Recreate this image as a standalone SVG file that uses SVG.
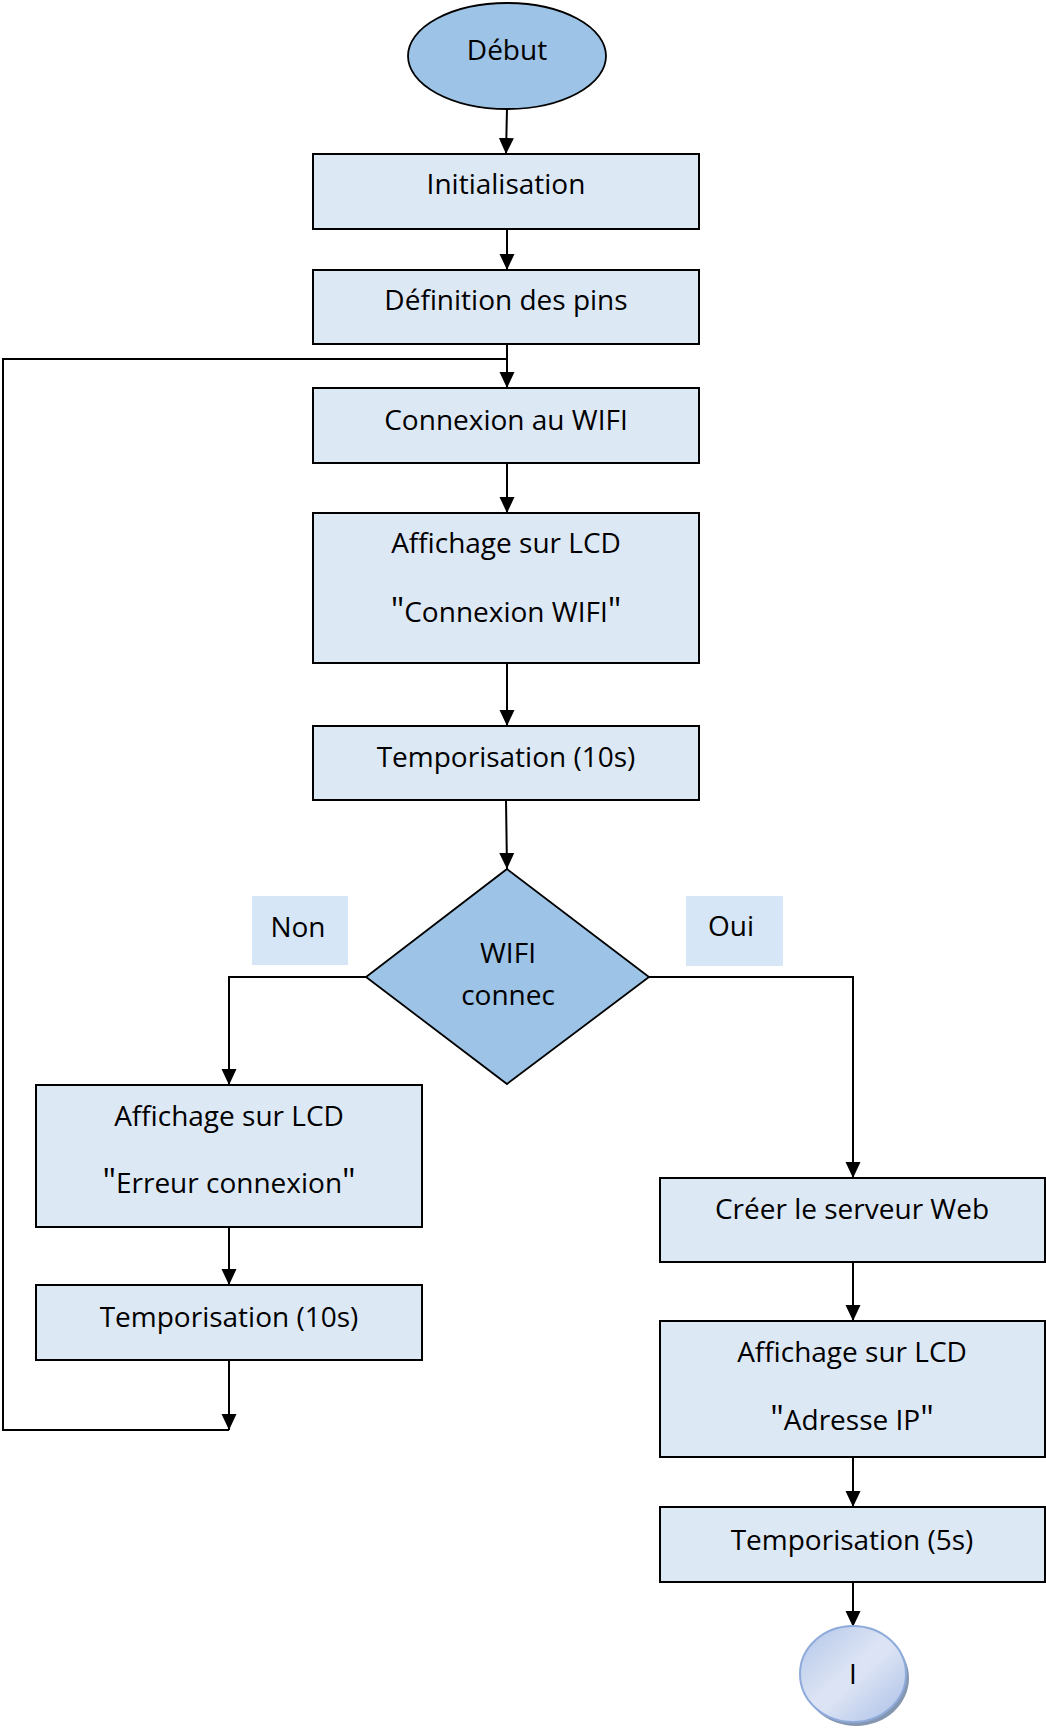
<svg xmlns="http://www.w3.org/2000/svg" width="1046" height="1731" viewBox="0 0 1046 1731">
<style>
.box{fill:#dde8f5;stroke:#000;stroke-width:2}
.term{fill:#9dc3e6;stroke:#000;stroke-width:1.8}
.lbl{fill:#d6e6f7}
.t{font-family:"Open Sans","Noto Sans","Liberation Sans",sans-serif;font-size:28px;fill:#000;text-anchor:middle}
.q{font-size:34px}
.ln{fill:none;stroke:#000;stroke-width:2}
</style>
<defs>
<marker id="arr" markerUnits="userSpaceOnUse" markerWidth="16" markerHeight="16" refX="16" refY="8" orient="auto">
<path d="M0,0.5 L16,8 L0,15.5 z" fill="#000"/>
</marker>
<linearGradient id="g" x1="0" y1="0" x2="1" y2="1">
<stop offset="0" stop-color="#b1c5e8"/>
<stop offset="0.45" stop-color="#dbe3f4"/>
<stop offset="0.55" stop-color="#dbe3f4"/>
<stop offset="1" stop-color="#a9bee6"/>
</linearGradient>
</defs>
<rect width="1046" height="1731" fill="#fff"/>
<g id="connectors">
<line class="ln" x1="507" y1="108" x2="506" y2="154" marker-end="url(#arr)"/>
<line class="ln" x1="507" y1="229" x2="507" y2="270" marker-end="url(#arr)"/>
<line class="ln" x1="507" y1="344" x2="507" y2="388" marker-end="url(#arr)"/>
<line class="ln" x1="507" y1="463" x2="507" y2="513" marker-end="url(#arr)"/>
<line class="ln" x1="507" y1="663" x2="507" y2="726" marker-end="url(#arr)"/>
<line class="ln" x1="506" y1="800" x2="507" y2="869" marker-end="url(#arr)"/>
<polyline class="ln" points="366,977 229,977 229,1085" marker-end="url(#arr)"/>
<line class="ln" x1="229" y1="1227" x2="229" y2="1285" marker-end="url(#arr)"/>
<line class="ln" x1="229" y1="1360" x2="229" y2="1430" marker-end="url(#arr)"/>
<polyline class="ln" points="229,1430 3,1430 3,359 507,359"/>
<polyline class="ln" points="649,977 853,977 853,1178" marker-end="url(#arr)"/>
<line class="ln" x1="853" y1="1262" x2="853" y2="1321" marker-end="url(#arr)"/>
<line class="ln" x1="853" y1="1457" x2="853" y2="1507" marker-end="url(#arr)"/>
<line class="ln" x1="853" y1="1582" x2="853" y2="1627" marker-end="url(#arr)"/>
</g>
<g id="debut">
<ellipse class="term" cx="507" cy="56" rx="99" ry="53"/>
<text class="t" x="507" y="60">Début</text>
</g>
<g id="init">
<rect class="box" x="313" y="154" width="386" height="75"/>
<text class="t" x="506" y="194">Initialisation</text>
</g>
<g id="pins">
<rect class="box" x="313" y="270" width="386" height="74"/>
<text class="t" x="506" y="310">Définition des pins</text>
</g>
<g id="connexion">
<rect class="box" x="313" y="388" width="386" height="75"/>
<text class="t" x="506" y="430">Connexion au WIFI</text>
</g>
<g id="lcd1">
<rect class="box" x="313" y="513" width="386" height="150"/>
<text class="t" x="506" y="553">Affichage sur LCD</text>
<text class="t" x="506" y="622"><tspan class="q">"</tspan>Connexion WIFI<tspan class="q">"</tspan></text>
</g>
<g id="tempo1">
<rect class="box" x="313" y="726" width="386" height="74"/>
<text class="t" x="506" y="767">Temporisation (10s)</text>
</g>
<g id="decision">
<polygon class="term" points="507,869 649,977 507,1084 366,977"/>
<text class="t" x="508" y="963">WIFI</text>
<text class="t" x="508" y="1005">connec</text>
</g>
<g id="non">
<rect class="lbl" x="252" y="896" width="96" height="69"/>
<text class="t" x="298" y="937">Non</text>
</g>
<g id="oui">
<rect class="lbl" x="686" y="896" width="97" height="70"/>
<text class="t" x="731" y="936">Oui</text>
</g>
<g id="lcd2">
<rect class="box" x="36" y="1085" width="386" height="142"/>
<text class="t" x="229" y="1126">Affichage sur LCD</text>
<text class="t" x="229" y="1193"><tspan class="q">"</tspan>Erreur connexion<tspan class="q">"</tspan></text>
</g>
<g id="tempo2">
<rect class="box" x="36" y="1285" width="386" height="75"/>
<text class="t" x="229" y="1327">Temporisation (10s)</text>
</g>
<g id="serveur">
<rect class="box" x="660" y="1178" width="385" height="84"/>
<text class="t" x="852" y="1219">Créer le serveur Web</text>
</g>
<g id="lcd3">
<rect class="box" x="660" y="1321" width="385" height="136"/>
<text class="t" x="852" y="1362">Affichage sur LCD</text>
<text class="t" x="852" y="1430"><tspan class="q">"</tspan>Adresse IP<tspan class="q">"</tspan></text>
</g>
<g id="tempo3">
<rect class="box" x="660" y="1507" width="385" height="75"/>
<text class="t" x="852" y="1550">Temporisation (5s)</text>
</g>
<g id="fin">
<ellipse cx="856" cy="1678" rx="53" ry="48" fill="#8496b0"/>
<ellipse cx="853" cy="1674" rx="53" ry="48" fill="url(#g)" stroke="#8eaadb" stroke-width="2"/>
<text class="t" x="853" y="1684">I</text>
</g>
</svg>
